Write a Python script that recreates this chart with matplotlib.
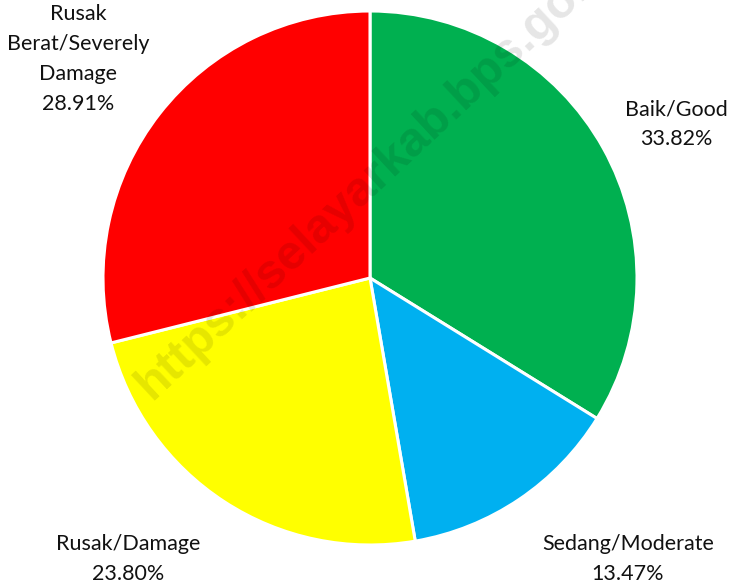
import matplotlib.pyplot as plt

# slice data, clockwise from 12 o'clock
categories = ["Baik/Good", "Sedang/Moderate", "Rusak/Damage", "Rusak\nBerat/Severely\nDamage"]
shares = [33.82, 13.47, 23.80, 28.91]
colors = ["#00B050", "#00B0F0", "#FFFF00", "#FF0000"]
# label centres in pixels (x, y from top), as placed in the original
label_px = [(676, 124), (628, 559), (128, 559), (78, 59)]

W, H = 731, 587
fig = plt.figure(figsize=(W / 100, H / 100), dpi=100)

cx, cy, r = 370, 278, 267
ax = fig.add_axes([(cx - r) / W, (H - cy - r) / H, 2 * r / W, 2 * r / H])
ax.pie(shares, colors=colors, startangle=90, counterclock=False, radius=1,
       wedgeprops=dict(edgecolor="white", linewidth=2.2))
ax.set_xlim(-1, 1)
ax.set_ylim(-1, 1)
ax.set_aspect("equal")
ax.axis("off")

for cat, val, (px, py) in zip(categories, shares, label_px):
    fig.text(px / W, 1 - py / H, f"{cat}\n{val:.2f}%", ha="center", va="center",
             fontsize=15.5, family="Lato", linespacing=1.62, color="#111111")

# watermark (runs off the top edge, as in the original)
fig.text(378 / W, 1 - 172 / H, "https://selayarkab.bps.go.id", rotation=43,
         ha="center", va="center", fontsize=35, fontweight="bold",
         family="Liberation Sans", color="black", alpha=0.1, zorder=10)

fig.savefig("out.png", dpi=100)
